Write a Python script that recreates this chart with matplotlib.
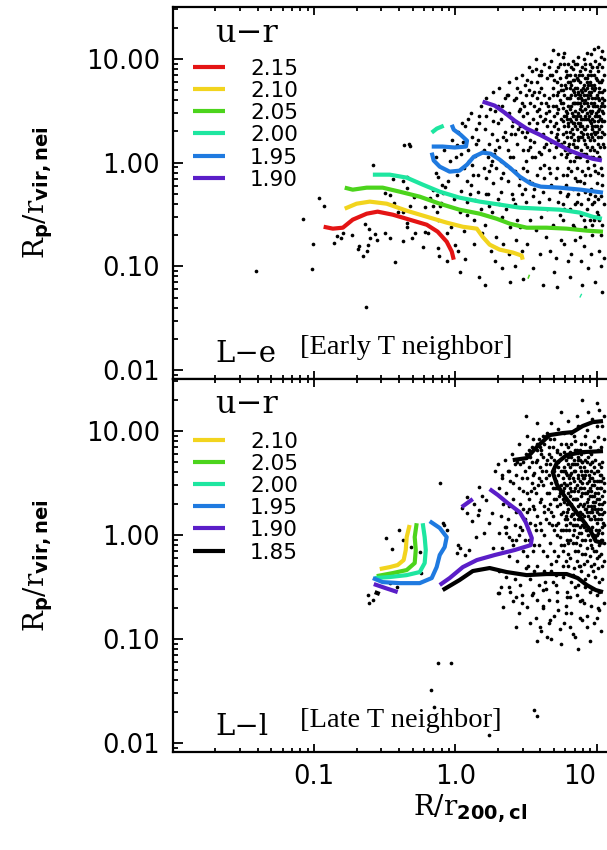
import numpy as np
import matplotlib
matplotlib.use("Agg")
import matplotlib.pyplot as plt
from matplotlib.ticker import FixedLocator, FixedFormatter, LogLocator, NullFormatter
from matplotlib.lines import Line2D

plt.rcParams['mathtext.fontset'] = 'custom'
plt.rcParams['mathtext.rm'] = 'DejaVu Serif'
plt.rcParams['mathtext.bf'] = 'DejaVu Sans:bold'

# ---------------- data ----------------
levels_top = ["2.15", "2.10", "2.05", "2.00", "1.95", "1.90"]
levels_bot = ["2.10", "2.05", "2.00", "1.95", "1.90", "1.85"]
colors = {"2.15": "#e41414", "2.10": "#f2d41e", "2.05": "#4cd41c",
          "2.00": "#1ee6a0", "1.95": "#1f7ae0", "1.90": "#5a1ec8", "1.85": "#000000"}

# top panel contour lines: (R/r200, Rp/rvir)
top_215_x = [0.117, 0.136, 0.160, 0.188, 0.236, 0.282, 0.361, 0.475, 0.628, 0.750, 0.869, 0.944, 0.975]
top_215_y = [0.241, 0.231, 0.236, 0.282, 0.322, 0.337, 0.315, 0.282, 0.252, 0.216, 0.173, 0.139, 0.116]
top_210_x = [0.165, 0.200, 0.248, 0.327, 0.453, 0.628, 0.869, 1.13, 1.42, 1.56, 1.75, 2.06, 2.55, 2.95, 3.00]
top_210_y = [0.360, 0.402, 0.421, 0.402, 0.344, 0.301, 0.264, 0.241, 0.231, 0.193, 0.162, 0.145, 0.136, 0.127, 0.116]
top_205_x = [0.165, 0.188, 0.236, 0.306, 0.404, 0.560, 0.776, 1.07, 1.49, 1.96, 2.43, 3.20, 4.43, 6.14, 8.51, 11.1]
top_205_y = [0.574, 0.549, 0.574, 0.574, 0.525, 0.470, 0.402, 0.352, 0.322, 0.288, 0.258, 0.236, 0.236, 0.231, 0.221, 0.216]
top_205b_x = [3.27, 3.35]
top_205b_y = [0.0800, 0.0790]
top_200_x = [0.261, 0.344, 0.453, 0.588, 0.776, 1.07, 1.49, 2.06, 2.86, 3.96, 5.48, 7.59, 9.38, 10.9]
top_200_y = [0.766, 0.766, 0.717, 0.614, 0.525, 0.460, 0.421, 0.394, 0.368, 0.360, 0.352, 0.330, 0.301, 0.288]
top_200b_x = [0.681, 0.74, 0.828]
top_200b_y = [1.95, 2.13, 2.27]
top_200c_x = [7.65, 7.80]
top_200c_y = [0.0525, 0.0518]
top_195a_x = [0.681, 0.814, 0.99, 1.19, 1.21, 1.09, 0.975, 0.944]
top_195a_y = [1.43, 1.43, 1.40, 1.43, 1.63, 1.86, 2.08, 2.32]
top_195b_x = [0.681, 0.703, 0.776, 0.912, 1.07, 1.21, 1.35, 1.56, 1.78, 2.06, 2.43, 2.86, 3.42, 4.03, 5.48, 7.73, 11.1]
top_195b_y = [1.25, 1.05, 0.915, 0.819, 0.837, 0.957, 1.14, 1.25, 1.22, 1.07, 0.895, 0.733, 0.627, 0.587, 0.574, 0.549, 0.514]
top_190_x = [1.56, 1.90, 2.24, 2.63, 3.20, 3.96, 5.05, 6.45, 7.98, 9.38, 10.9]
top_190_y = [3.88, 3.55, 3.03, 2.54, 2.13, 1.86, 1.56, 1.31, 1.17, 1.09, 1.05]

# bottom panel contour lines
bot_210_x = [0.475, 0.453, 0.446, 0.431, 0.391, 0.344, 0.292]
bot_210_y = [1.25, 0.957, 0.718, 0.575, 0.515, 0.492, 0.471]
bot_205_x = [0.533, 0.516, 0.525, 0.516, 0.453, 0.361, 0.278]
bot_205_y = [1.30, 0.957, 0.718, 0.538, 0.461, 0.431, 0.403]
bot_200_x = [0.588, 0.607, 0.618, 0.607, 0.560, 0.453, 0.344, 0.269]
bot_200_y = [1.30, 0.957, 0.718, 0.538, 0.441, 0.412, 0.395, 0.386]
bot_195_x = [0.659, 0.776, 0.869, 0.841, 0.776, 0.738, 0.681, 0.560, 0.404, 0.306, 0.261]
bot_195_y = [1.36, 1.17, 0.957, 0.767, 0.643, 0.492, 0.386, 0.345, 0.345, 0.353, 0.386]
bot_190a_x = [0.265, 0.321, 0.391]
bot_190a_y = [0.338, 0.309, 0.283]
bot_190b_x = [0.776, 0.912, 1.13, 1.42, 1.90, 2.63, 3.42, 3.48, 3.15, 2.86, 2.35, 2.00, 1.75]
bot_190b_y = [0.331, 0.386, 0.492, 0.575, 0.643, 0.718, 0.801, 0.935, 1.33, 1.66, 2.03, 2.43, 2.77]
bot_190c_x = [1.11, 1.33]
bot_190c_y = [1.86, 2.22]
bot_185a_x = [0.269, 0.292]
bot_185a_y = [0.283, 0.271]
bot_185b_x = [0.814, 1.07, 1.33, 1.75, 2.31, 3.20, 4.43, 6.14, 7.35, 8.51, 9.86, 11.1]
bot_185b_y = [0.296, 0.369, 0.451, 0.482, 0.441, 0.412, 0.422, 0.422, 0.386, 0.331, 0.296, 0.283]
bot_185c_x = [2.55, 3.20, 3.77, 4.66, 5.75, 6.77, 7.98, 9.38, 11.1]
bot_185c_y = [5.26, 5.50, 7.02, 9.16, 9.57, 9.78, 11.2, 12.2, 12.5]
bot_185d_x = [11.1, 7.98, 6.14, 5.22, 4.89, 5.22, 5.85, 6.77, 7.98, 9.08, 9.86, 11.1]
bot_185d_y = [6.42, 6.28, 5.88, 4.92, 4.04, 3.09, 2.43, 1.86, 1.39, 1.09, 0.875, 0.838]

# galaxies (log10 R/r200, log10 Rp/rvir)
top_pts = np.array([
 [-1.079,-0.54],[-0.967,-0.34],[-0.932,-0.42],[-1.010,-0.78],[-1.017,-1.03],[-0.861,-0.77],[-0.811,-0.73],
 [-0.733,-0.70],[-0.684,-0.80],[-0.627,-0.85],[-0.655,-0.90],[-0.606,-0.73],[-0.556,-0.75],[-0.570,-0.69],
 [-0.641,-0.59],[-0.613,-0.64],[-0.584,-0.02],[-0.365,0.17],[-0.330,0.18],[-0.443,-0.16],[-0.500,-0.29],
 [-0.464,-0.31],[-0.436,-0.39],[-0.408,-0.48],[-0.372,-0.48],[-0.344,-0.14],[-0.464,-0.73],[-0.429,-0.96],
 [-0.344,-0.62],[-0.309,-0.73],[-0.231,-0.81],[-0.217,-0.67],[-0.195,-0.68],[-0.125,-0.82],[-0.117,-0.90],
 [-0.181,-0.34],[-0.217,-0.43],[-0.294,-0.33],[-0.323,-0.42],[-0.634,-1.39],[-0.139,-0.10],[-0.125,-0.14],
 [-0.160,-0.26],[-0.132,-0.31],[-0.089,-0.29],[-0.075,-0.23],[-0.103,-0.39],[-0.160,-0.42],[-0.344,-0.24],
 [-0.839,-0.71],[-0.796,-0.68],[-0.690,-0.83],[-0.620,-0.79],[-0.500,-0.68],[-0.372,-0.76],[-0.344,-0.58],
 [-0.323,0.16],[-0.372,-0.18],[-0.287,-0.68],[-0.110,-0.42],[-0.132,-0.48],[-0.061,-0.68],[-0.004,-0.79],
 [-1.41,-1.04],
 [-0.14,0.05],[-0.12,-0.55],[-0.08,0.12],[-0.05,-0.18],[-0.03,-0.62],[-0.02,0.22],[-0.06,-0.95],[-0.01,-0.35],
 [0.01,-0.12],[0.02,0.30],[0.03,-0.48],[0.04,0.08],[0.02,-0.85],[0.04,-0.27],[0.01,0.17],[0.03,-1.05],
 [0.06,-0.05],[0.07,0.35],[0.08,-0.38],[0.09,0.12],[0.06,-0.66],[0.08,-0.18],[0.10,0.02],[0.07,-0.93],[0.09,0.42],
 [0.11,-0.22],[0.12,0.25],[0.13,-0.55],[0.14,0.06],[0.12,-0.02],[0.11,0.48],[0.14,-0.36],[0.13,-0.78],[0.15,0.18],
 [0.16,-0.12],[0.17,0.38],[0.18,-0.45],[0.19,0.10],[0.16,-0.28],[0.18,0.55],[0.19,-0.68],[0.17,-1.10],[0.20,-0.05],[0.16,0.22],
 [0.21,0.32],[0.22,-0.15],[0.23,0.05],[0.24,-0.42],[0.21,-0.60],[0.22,0.62],[0.23,-0.30],[0.24,0.18],[0.25,-0.85],[0.22,0.45],[0.25,-0.02],[0.21,-1.18],
 [0.26,0.28],[0.27,-0.20],[0.28,0.50],[0.29,-0.05],[0.26,-0.48],[0.28,0.12],[0.30,-0.35],[0.27,0.68],[0.29,-0.72],[0.26,0.02],[0.30,0.38],[0.28,-0.95],
 [0.31,0.15],[0.32,-0.28],[0.33,0.55],[0.34,-0.10],[0.31,0.72],[0.33,-0.52],[0.35,0.30],[0.32,0.02],[0.34,-0.78],[0.31,-0.40],[0.35,0.62],[0.33,-1.02],[0.32,0.42],
 [0.36,0.22],[0.37,-0.18],[0.38,0.48],[0.39,0.05],[0.36,-0.45],[0.38,0.78],[0.40,-0.30],[0.37,0.65],[0.39,-0.62],[0.36,-0.02],[0.40,0.35],[0.38,-0.88],[0.37,0.12],[0.39,-1.15],
 [0.41,0.40],[0.42,-0.08],[0.43,0.62],[0.44,0.18],[0.41,-0.35],[0.43,0.82],[0.45,-0.22],[0.42,0.28],[0.44,-0.55],[0.41,0.05],[0.45,0.50],[0.43,-0.75],[0.42,-1.00],[0.44,0.72],
 [0.46,0.35],[0.47,0.58],[0.48,0.12],[0.49,0.75],[0.46,-0.15],[0.48,0.45],[0.50,-0.38],[0.47,0.85],[0.49,0.25],[0.46,-0.62],[0.48,-0.05],[0.50,0.65],[0.47,-0.85],[0.49,-0.25],[0.46,0.52],[0.50,0.02],[0.48,-1.12],[0.47,0.30],
 [0.51,0.48],[0.52,0.70],[0.53,0.22],[0.54,0.88],[0.51,-0.08],[0.53,0.58],[0.55,-0.32],[0.52,0.38],[0.54,0.05],[0.51,0.80],[0.53,-0.55],[0.55,0.42],[0.52,-0.18],[0.54,0.65],[0.51,-0.78],[0.53,0.15],[0.55,-1.02],[0.52,0.92],
 [0.56,0.55],[0.57,0.32],[0.58,0.78],[0.59,0.10],[0.56,0.68],[0.58,-0.12],[0.60,0.45],[0.57,0.90],[0.59,-0.38],[0.56,0.20],[0.58,0.62],[0.60,-0.05],[0.57,-0.65],[0.59,0.85],[0.56,-0.25],[0.58,0.38],[0.60,-0.88],[0.57,1.00],[0.59,0.52],
 [0.61,0.72],[0.62,0.40],[0.63,0.95],[0.64,0.18],[0.61,0.58],[0.63,-0.02],[0.65,0.82],[0.62,-0.28],[0.64,0.48],[0.61,0.08],[0.63,0.65],[0.65,-0.45],[0.62,0.28],[0.64,-0.72],[0.61,0.88],[0.63,-0.15],[0.65,0.35],[0.62,-1.18],[0.64,0.58],[0.61,-0.52],
 [0.66,0.62],[0.67,0.85],[0.68,0.30],[0.69,0.72],[0.66,0.12],[0.68,0.98],[0.70,0.45],[0.67,-0.10],[0.69,0.55],[0.66,-0.35],[0.68,0.20],[0.70,0.80],[0.67,0.40],[0.69,-0.60],[0.66,0.92],[0.68,-0.22],[0.70,0.05],[0.67,-0.85],[0.69,0.65],[0.66,0.50],[0.70,-1.05],
 [0.71,0.55],[0.72,0.78],[0.73,0.32],[0.74,0.95],[0.71,0.15],[0.73,0.68],[0.75,0.42],[0.72,-0.05],[0.74,0.60],[0.71,0.88],[0.73,0.22],[0.75,0.75],[0.72,0.48],[0.74,-0.28],[0.71,0.38],[0.73,1.05],[0.75,0.08],[0.72,0.65],[0.74,-0.50],[0.71,-0.15],[0.73,0.52],[0.75,-0.75],[0.72,0.28],[0.74,0.82],[0.71,-0.92],[0.73,-0.38],[0.75,0.58],[0.72,-1.20],
 [0.76,0.70],[0.77,0.45],[0.78,0.88],[0.79,0.25],[0.76,0.58],[0.78,0.05],[0.80,0.78],[0.77,0.35],[0.79,0.62],[0.76,-0.12],[0.78,0.50],[0.80,0.15],[0.77,0.95],[0.79,-0.32],[0.76,0.40],[0.78,0.72],[0.80,-0.05],[0.77,0.20],[0.79,0.85],[0.76,-0.55],[0.78,-0.22],[0.80,0.55],[0.77,-0.78],[0.79,0.42],[0.76,1.02],[0.78,0.30],[0.80,-0.95],[0.77,0.65],[0.79,0.08],[0.76,-0.40],
 [0.81,0.62],[0.82,0.40],[0.83,0.80],[0.84,0.22],[0.81,0.52],[0.83,0.70],[0.85,0.35],[0.82,0.92],[0.84,0.58],[0.81,0.10],[0.83,0.45],[0.85,0.85],[0.82,-0.08],[0.84,0.68],[0.81,0.30],[0.83,-0.25],[0.85,0.50],[0.82,0.75],[0.84,0.02],[0.81,-0.45],[0.83,0.18],[0.85,-0.15],[0.82,0.55],[0.84,-0.62],[0.81,0.85],[0.83,0.98],[0.85,0.65],[0.82,-0.88],[0.84,0.38],[0.81,-1.10],[0.83,0.28],[0.85,-0.40],
 [0.86,0.72],[0.87,0.48],[0.88,0.88],[0.89,0.30],[0.86,0.58],[0.88,0.65],[0.90,0.42],[0.87,0.80],[0.89,0.55],[0.86,0.15],[0.88,0.38],[0.90,0.92],[0.87,0.22],[0.89,0.70],[0.86,-0.05],[0.88,0.05],[0.90,0.60],[0.87,-0.30],[0.89,0.12],[0.86,0.45],[0.88,-0.18],[0.90,0.25],[0.87,1.02],[0.89,-0.50],[0.86,0.95],[0.88,-0.72],[0.90,-0.08],[0.87,0.62],[0.89,-0.95],[0.86,-0.38],[0.88,0.52],[0.90,-1.18],
 [0.91,0.65],[0.92,0.45],[0.93,0.82],[0.94,0.55],[0.91,0.32],[0.93,0.72],[0.95,0.40],[0.92,0.90],[0.94,0.25],[0.91,0.58],[0.93,0.48],[0.95,0.78],[0.92,0.18],[0.94,0.62],[0.91,0.08],[0.93,0.35],[0.95,0.12],[0.92,0.70],[0.94,-0.05],[0.91,-0.20],[0.93,0.02],[0.95,-0.30],[0.92,-0.12],[0.94,0.85],[0.91,1.00],[0.93,-0.45],[0.95,0.95],[0.92,-0.62],[0.94,-0.35],[0.91,-0.80],[0.93,1.06],[0.95,-0.55],[0.92,0.52],[0.94,-1.02],[0.91,0.42],
 [0.96,0.68],[0.97,0.50],[0.98,0.85],[0.99,0.35],[0.96,0.58],[0.98,0.75],[1.00,0.45],[0.97,0.92],[0.99,0.62],[0.96,0.28],[0.98,0.40],[1.00,0.80],[0.97,0.15],[0.99,0.55],[0.96,0.05],[0.98,0.22],[1.00,0.10],[0.97,0.72],[0.99,-0.08],[0.96,-0.25],[0.98,-0.02],[1.00,-0.20],[0.97,-0.40],[0.99,0.98],[0.96,1.05],[0.98,-0.55],[1.00,0.65],[0.97,-0.70],[0.99,-0.32],[0.96,-0.88],[0.98,1.10],[1.00,-0.48],[0.97,0.32],[0.99,-1.15],[0.96,0.85],
 [1.01,0.62],[1.02,0.45],[1.03,0.78],[1.04,0.30],[1.01,0.88],[1.03,0.55],[1.05,0.40],[1.02,0.95],[1.04,0.68],[1.01,0.18],[1.03,0.25],[1.05,0.85],[1.02,0.05],[1.04,0.50],[1.01,-0.10],[1.03,-0.05],[1.05,0.15],[1.02,0.72],[1.04,-0.22],[1.01,-0.35],[1.03,1.02],[1.05,-0.40],[1.02,-0.55],[1.04,1.08],[1.01,1.12],[1.03,-0.70],[1.05,0.60],[1.02,-0.85],[1.04,-0.60],[1.01,0.40],[1.03,-1.00],[1.05,-0.92],[1.02,0.32],[1.04,-1.25],[1.05,1.00],
 [0.69,1.09],[0.77,1.06],
 [0.79,0.48],[0.81,0.72],[0.82,0.25],[0.84,0.45],[0.85,0.72],[0.86,0.32],[0.87,0.58],[0.88,0.78],[0.89,0.42],[0.90,0.68],[0.91,0.22],[0.92,0.60],[0.93,0.28],[0.94,0.75],[0.95,0.50],[0.96,0.38],[0.97,0.62],[0.98,0.30],[0.99,0.72],[1.00,0.55],[1.01,0.25],[1.02,0.60],[1.03,0.42],[1.04,0.80],
 [0.80,0.35],[0.82,0.65],[0.83,0.38],[0.85,0.58],[0.86,0.82],[0.87,0.38],[0.88,0.25],[0.89,0.62],[0.90,0.35],[0.91,0.75],[0.92,0.32],[0.93,0.58],[0.94,0.42],[0.95,0.65],[0.96,0.48],[0.97,0.25],[0.98,0.58],[0.99,0.45],[1.00,0.30],[1.01,0.50],[1.02,0.78],[1.03,0.35],[1.04,0.58],[1.05,0.28],
 [0.81,0.42],[0.84,0.80],[0.87,0.68],[0.90,0.50],[0.93,0.65],[0.96,0.75],[0.99,0.28],[1.02,0.52],[1.04,0.40],[0.88,0.45],[0.92,0.82],[0.97,0.42],
 [0.765,0.53],[0.775,0.12],[0.785,0.83],[0.795,0.38],[0.805,0.62],[0.815,0.02],[0.825,0.48],[0.835,0.90],[0.845,0.15],[0.855,0.42],
 [0.865,0.66],[0.875,0.05],[0.885,0.58],[0.895,0.85],[0.905,0.28],[0.915,0.52],[0.925,0.08],[0.935,0.78],[0.945,0.45],[0.955,0.22],
 [0.965,0.92],[0.975,0.55],[0.985,0.12],[0.995,0.82],[1.005,0.35],[1.015,0.68],[1.025,0.15],[1.035,0.92],[1.045,0.48],[1.055,0.70],
 [0.765,0.28],[0.775,0.75],[0.785,0.45],[0.795,0.95],[0.805,0.18],[0.815,0.78],[0.825,0.32],[0.835,0.58],[0.845,0.95],[0.855,0.05],
 [0.865,0.25],[0.875,0.85],[0.885,0.35],[0.895,0.08],[0.905,0.72],[0.915,0.95],[0.925,0.42],[0.935,0.15],[0.945,0.68],[0.955,0.88],
 [0.965,0.35],[0.975,0.05],[0.985,0.70],[0.995,0.48],[1.005,0.92],[1.015,0.05],[1.025,0.42],[1.035,0.62],[1.045,0.18],[1.055,0.55],
 [0.77,-0.45],[0.80,-0.30],[0.83,-0.60],[0.86,-0.18],[0.89,-0.40],[0.92,-0.28],[0.95,-0.12],[0.98,-0.38],[1.01,-0.50],[1.04,-0.12],
 [0.79,-0.12],[0.85,-0.75],[0.91,-0.55],[0.97,-0.60],[1.03,-0.32],
 [0.205,0.12],[0.235,-0.08],[0.265,0.40],[0.295,0.22],[0.325,-0.15],[0.355,0.48],[0.385,-0.05],[0.415,0.60],[0.445,0.32],[0.475,-0.30],
 [0.505,0.30],[0.535,0.78],[0.565,0.05],[0.595,0.68],[0.625,0.15],[0.655,0.55],[0.685,0.85],[0.715,0.25],[0.745,0.70],
 [0.215,-0.30],[0.245,0.52],[0.275,0.08],[0.305,0.55],[0.335,0.25],[0.365,0.65],[0.395,0.28],[0.425,-0.40],[0.455,0.68],[0.485,0.55],
 [0.515,0.12],[0.545,-0.20],[0.575,0.50],[0.605,0.85],[0.635,0.42],[0.665,-0.05],[0.695,0.35],[0.725,0.92],[0.745,0.18],
 [0.005,0.05],[0.045,0.38],[0.085,-0.50],[0.125,-0.12],[0.165,0.45],[0.055,0.20],[0.105,-0.30],[0.145,0.32],[-0.035,0.02],[-0.095,-0.22],
])

bot_pts = np.array([
 [-0.11,0.50],[-0.40,0.05],[-0.49,-0.03],[-0.45,-0.13],[-0.37,-0.05],[-0.31,-0.11],[-0.25,-0.16],[-0.24,-0.36],
 [-0.08,0.10],[-0.62,-0.58],[-0.61,-0.65],[-0.58,-0.62],[-0.46,-0.46],[-0.41,-0.50],[-0.12,-1.23],[-0.03,-1.23],
 [-0.17,-1.49],[-0.15,-1.65],[0.56,-1.68],[0.58,-1.74],[0.24,-1.92],[-0.09,0.12],[-0.06,0.05],
 [0.17,0.46],[0.19,0.38],[0.16,0.19],[0.24,0.12],[0.31,0.02],[0.05,0.26],[0.08,0.21],[0.03,-0.12],[0.01,-0.17],
 [0.07,-0.19],[0.10,-0.14],[0.15,-0.02],[0.36,0.08],[0.38,-0.02],[0.43,-0.05],[0.46,0.08],[0.26,0.21],
 [0.02,-0.10],[0.12,0.14],[0.17,0.24],[0.22,0.34],[0.08,0.37],[0.20,0.02],[0.27,-0.12],[0.13,0.30],
 [0.50,1.15],[0.58,1.08],[0.68,1.08],[0.82,0.98],[0.93,1.01],[1.01,0.94],[0.90,1.30],[1.00,1.27],[1.02,1.20],
 [0.97,1.12],[1.04,1.05],[0.86,1.15],[0.75,1.18],[0.62,0.95],[0.55,0.92],[0.45,0.88],[0.40,0.78],[0.35,0.72],
 [0.30,0.68],[0.28,0.62],[0.38,0.62],[0.48,0.70],[0.52,0.82],[0.60,0.85],[0.66,0.78],[0.70,0.92],[0.72,0.82],
 [0.78,0.88],[0.80,0.78],[0.85,0.90],[0.88,0.82],[0.92,0.88],[0.95,0.80],[0.98,0.90],[1.03,0.85],[1.05,0.92],
 [0.42,0.68],[0.33,0.58],[0.58,0.72],[0.64,0.68],
 [0.31,0.45],[0.32,0.18],[0.33,-0.12],[0.34,0.30],[0.31,-0.35],[0.33,0.55],[0.35,0.08],[0.32,-0.50],
 [0.36,0.40],[0.37,0.15],[0.38,-0.20],[0.39,0.52],[0.36,-0.40],[0.38,0.28],[0.40,-0.05],[0.37,0.62],[0.39,-0.55],[0.36,0.02],
 [0.41,0.35],[0.42,0.10],[0.43,0.58],[0.44,-0.25],[0.41,-0.10],[0.43,0.22],[0.45,0.45],[0.42,-0.42],[0.44,0.70],[0.41,0.50],[0.43,-0.60],[0.45,0.00],
 [0.46,0.30],[0.47,0.55],[0.48,-0.15],[0.49,0.15],[0.46,0.68],[0.48,0.42],[0.50,-0.32],[0.47,0.05],[0.49,0.62],[0.46,-0.48],[0.48,0.25],[0.50,0.78],[0.47,-0.65],[0.49,-0.05],
 [0.51,0.40],[0.52,0.65],[0.53,0.12],[0.54,0.50],[0.51,-0.20],[0.53,0.75],[0.55,0.28],[0.52,-0.05],[0.54,0.85],[0.51,0.22],[0.53,-0.42],[0.55,0.58],[0.52,0.35],[0.54,-0.58],[0.51,0.95],[0.55,-0.15],
 [0.56,0.45],[0.57,0.70],[0.58,0.18],[0.59,0.55],[0.56,-0.10],[0.58,0.82],[0.60,0.32],[0.57,0.05],[0.59,0.92],[0.56,0.25],[0.58,-0.30],[0.60,0.65],[0.57,0.40],[0.59,-0.48],[0.56,0.60],[0.58,-0.62],[0.60,0.12],[0.57,-0.80],
 [0.61,0.52],[0.62,0.75],[0.63,0.28],[0.64,0.62],[0.61,0.05],[0.63,0.88],[0.65,0.40],[0.62,-0.15],[0.64,0.15],[0.61,0.35],[0.63,-0.35],[0.65,0.72],[0.62,0.48],[0.64,-0.52],[0.61,0.82],[0.63,0.00],[0.65,-0.20],[0.62,-0.70],[0.64,0.95],[0.61,-0.92],
 [0.66,0.58],[0.67,0.30],[0.68,0.75],[0.69,0.45],[0.66,0.12],[0.68,0.22],[0.70,0.62],[0.67,-0.08],[0.69,0.85],[0.66,0.40],[0.68,-0.28],[0.70,0.05],[0.67,0.68],[0.69,-0.45],[0.66,-0.62],[0.68,0.50],[0.70,-0.15],[0.67,0.92],[0.69,0.18],[0.66,-0.85],[0.68,-1.00],[0.70,0.35],
 [0.71,0.52],[0.72,0.28],[0.73,0.70],[0.74,0.40],[0.71,0.10],[0.73,0.58],[0.75,0.20],[0.72,0.80],[0.74,-0.02],[0.71,0.35],[0.73,-0.20],[0.75,0.62],[0.72,0.45],[0.74,0.78],[0.71,-0.38],[0.73,0.12],[0.75,-0.10],[0.72,-0.55],[0.74,0.30],[0.71,0.68],[0.73,-0.72],[0.75,0.48],[0.72,0.00],[0.74,-0.90],[0.71,-0.25],[0.75,0.88],
 [0.76,0.55],[0.77,0.32],[0.78,0.72],[0.79,0.15],[0.76,0.42],[0.78,0.60],[0.80,0.25],[0.77,0.80],[0.79,0.48],[0.76,0.05],[0.78,0.35],[0.80,0.68],[0.77,-0.10],[0.79,0.58],[0.76,0.22],[0.78,-0.25],[0.80,0.40],[0.77,0.65],[0.79,-0.05],[0.76,-0.40],[0.78,0.10],[0.80,-0.18],[0.77,0.45],[0.79,-0.55],[0.76,0.75],[0.78,-0.68],[0.80,0.85],[0.77,-0.85],[0.79,0.30],[0.76,-0.30],
 [0.81,0.50],[0.82,0.30],[0.83,0.68],[0.84,0.42],[0.81,0.12],[0.83,0.55],[0.85,0.22],[0.82,0.75],[0.84,0.05],[0.81,0.38],[0.83,-0.08],[0.85,0.62],[0.82,0.18],[0.84,0.52],[0.81,-0.22],[0.83,0.35],[0.85,-0.15],[0.82,0.60],[0.84,-0.32],[0.81,0.80],[0.83,0.00],[0.85,0.45],[0.82,-0.45],[0.84,0.72],[0.81,-0.60],[0.83,0.25],[0.85,-0.50],[0.82,-0.75],[0.84,0.15],[0.81,0.65],[0.83,-0.95],[0.85,0.10],
 [0.86,0.48],[0.87,0.28],[0.88,0.65],[0.89,0.38],[0.86,0.10],[0.88,0.52],[0.90,0.20],[0.87,0.72],[0.89,0.02],[0.86,0.35],[0.88,-0.10],[0.90,0.58],[0.87,0.15],[0.89,0.45],[0.86,-0.25],[0.88,0.30],[0.90,-0.05],[0.87,0.55],[0.89,-0.35],[0.86,0.68],[0.88,0.08],[0.90,0.40],[0.87,-0.48],[0.89,0.78],[0.86,-0.58],[0.88,0.22],[0.90,-0.62],[0.87,-0.15],[0.89,0.62],[0.86,0.82],[0.88,-0.80],[0.90,0.70],
 [0.91,0.45],[0.92,0.25],[0.93,0.62],[0.94,0.35],[0.91,0.08],[0.93,0.50],[0.95,0.15],[0.92,0.72],[0.94,0.00],[0.91,0.30],[0.93,-0.12],[0.95,0.55],[0.92,0.12],[0.94,0.42],[0.91,-0.28],[0.93,0.22],[0.95,-0.20],[0.92,0.58],[0.94,-0.38],[0.91,0.65],[0.93,0.05],[0.95,0.38],[0.92,-0.50],[0.94,0.75],[0.91,-0.65],[0.93,0.32],[0.95,-0.55],[0.92,-0.05],[0.94,0.18],[0.91,0.80],[0.93,-0.78],[0.95,0.68],
 [0.96,0.42],[0.97,0.22],[0.98,0.60],[0.99,0.32],[0.96,0.05],[0.98,0.48],[1.00,0.12],[0.97,0.70],[0.99,-0.02],[0.96,0.28],[0.98,-0.15],[1.00,0.52],[0.97,0.08],[0.99,0.40],[0.96,-0.30],[0.98,0.18],[1.00,-0.22],[0.97,0.55],[0.99,-0.40],[0.96,0.62],[0.98,0.00],[1.00,0.35],[0.97,-0.52],[0.99,0.72],[0.96,-0.68],[0.98,0.28],[1.00,-0.58],[0.97,-0.12],[0.99,0.15],[0.96,0.78],
 [1.01,0.40],[1.02,0.20],[1.03,0.58],[1.04,0.30],[1.01,0.02],[1.03,0.45],[1.05,0.10],[1.02,0.68],[1.04,-0.05],[1.01,0.25],[1.03,-0.18],[1.05,0.50],[1.02,0.05],[1.04,0.38],[1.01,-0.32],[1.03,0.15],[1.05,-0.25],[1.02,0.52],[1.04,-0.42],[1.01,0.62],[1.03,-0.05],[1.05,0.32],[1.02,-0.55],[1.04,0.70],[1.01,-0.70],[1.03,0.25],[1.05,-0.65],[1.02,-0.20],
 [0.31,-0.56],[0.38,-0.50],[0.41,-0.63],[0.51,-0.69],[0.60,-0.88],[0.65,-0.98],[0.67,-0.82],[0.81,-0.88],[0.90,-0.82],[0.93,-0.88],[1.00,-0.80],[1.02,-0.72],[0.79,-0.60],[0.88,-0.63],[0.72,-0.63],[0.62,-0.53],[0.55,-0.56],[0.47,-0.58],[0.34,-0.69],[0.30,-0.56],
 [0.45,-0.75],[0.58,-1.02],[0.75,-1.05],[0.85,-0.98],[0.95,-1.02],[1.03,-0.92],[0.70,-0.78],[0.62,-0.68],[0.53,-0.85],[0.43,-0.88],[0.98,-0.85],[0.87,-1.10],[0.78,-0.75],
 [0.77,0.50],[0.79,0.22],[0.81,0.58],[0.82,0.42],[0.84,0.25],[0.85,0.68],[0.86,0.20],[0.87,0.42],[0.88,0.72],[0.89,0.15],[0.90,0.50],[0.91,0.18],[0.92,0.40],[0.93,0.70],[0.94,0.28],[0.95,0.45],[0.96,0.15],[0.97,0.38],[0.98,0.65],[0.99,0.25],[1.00,0.45],[1.01,0.15],[1.02,0.35],[1.03,0.65],[1.04,0.20],[1.05,0.42],
 [0.78,0.05],[0.80,-0.08],[0.83,0.10],[0.86,-0.02],[0.88,-0.30],[0.90,0.10],[0.92,-0.18],[0.94,0.08],[0.96,-0.10],[0.98,-0.28],[1.00,0.00],[1.02,-0.10],[1.04,0.08],[0.82,0.88],[0.89,0.88],[0.95,0.85],[1.01,0.82],[0.76,0.62],[0.84,0.62],[0.91,0.55],[0.97,0.48],[1.03,0.52],
 [0.765,0.35],[0.775,0.62],[0.785,0.18],[0.795,0.75],[0.805,0.05],[0.815,0.45],[0.825,0.68],[0.835,0.20],[0.845,0.82],[0.855,0.35],
 [0.865,0.58],[0.875,0.02],[0.885,0.45],[0.895,0.70],[0.905,0.28],[0.915,0.62],[0.925,0.05],[0.935,0.40],[0.945,0.58],[0.955,0.22],
 [0.965,0.70],[0.975,0.32],[0.985,0.52],[0.995,0.05],[1.005,0.62],[1.015,0.30],[1.025,0.45],[1.035,0.02],[1.045,0.55],[1.055,0.22],
 [0.765,-0.15],[0.775,0.15],[0.785,0.48],[0.795,-0.30],[0.805,0.55],[0.815,-0.05],[0.825,0.20],[0.835,-0.38],[0.845,0.35],[0.855,-0.08],
 [0.865,0.75],[0.875,-0.30],[0.885,0.15],[0.895,-0.18],[0.905,0.55],[0.915,-0.42],[0.925,0.25],[0.935,-0.25],[0.945,0.52],[0.955,-0.05],
 [0.965,0.25],[0.975,-0.35],[0.985,0.38],[0.995,-0.15],[1.005,0.22],[1.015,-0.45],[1.025,0.58],[1.035,-0.30],[1.045,0.12],[1.055,-0.08],
 [0.505,0.55],[0.525,0.25],[0.545,0.70],[0.565,0.10],[0.585,0.48],[0.605,0.78],[0.625,0.22],[0.645,0.55],[0.665,0.85],[0.685,0.10],
 [0.705,0.45],[0.725,0.65],[0.745,0.05],[0.515,-0.30],[0.555,-0.35],[0.595,-0.10],[0.635,-0.45],[0.675,-0.35],[0.715,-0.48],[0.735,0.38],
 [0.535,0.42],[0.575,0.88],[0.615,0.62],[0.655,0.25],[0.695,0.72],
 [0.65,0.98],[0.73,1.02],[0.80,1.10],[0.87,1.05],[0.94,1.18],[1.00,1.05],[1.05,1.15],[0.92,0.95],[0.84,0.95],[0.77,0.98],
])

x_ticks = [0.01, 0.1, 1.0, 10.0]
x_ticklabels = ["", "0.1", "1.0", "10"]
y_ticks = [0.01, 0.1, 1.0, 10.0]
y_ticklabels = ["0.01", "0.10", "1.00", "10.00"]
panel_tags = ["L\u2212e", "L\u2212l"]
panel_notes = ["[Early T neighbor]", "[Late T neighbor]"]

top_lines = [("2.15", top_215_x, top_215_y), ("2.10", top_210_x, top_210_y),
             ("2.05", top_205_x, top_205_y), ("2.05", top_205b_x, top_205b_y),
             ("2.00", top_200_x, top_200_y), ("2.00", top_200b_x, top_200b_y),
             ("2.00", top_200c_x, top_200c_y),
             ("1.95", top_195a_x, top_195a_y), ("1.95", top_195b_x, top_195b_y),
             ("1.90", top_190_x, top_190_y)]
bot_lines = [("2.10", bot_210_x, bot_210_y), ("2.05", bot_205_x, bot_205_y),
             ("2.00", bot_200_x, bot_200_y), ("1.95", bot_195_x, bot_195_y),
             ("1.90", bot_190a_x, bot_190a_y), ("1.90", bot_190b_x, bot_190b_y),
             ("1.90", bot_190c_x, bot_190c_y),
             ("1.85", bot_185a_x, bot_185a_y), ("1.85", bot_185b_x, bot_185b_y),
             ("1.85", bot_185c_x, bot_185c_y), ("1.85", bot_185d_x, bot_185d_y)]

# ---------------- figure ----------------
W, H = 607, 850
fig = plt.figure(figsize=(W / 100, H / 100), dpi=100)

left = 172.7 / W
xlim = (0.01, 15.0)
width = np.log10(xlim[1] / xlim[0]) * 141.3 / W
ylim = (0.0082, 31.7)
ax_top = fig.add_axes([left, 1 - 379 / H, width, 372 / H])
ax_bot = fig.add_axes([left, 1 - 752 / H, width, 373 / H])

tick_font = dict(family="DejaVu Sans", size=18.5)

for ax, pts, lines in [(ax_top, top_pts, top_lines), (ax_bot, bot_pts, bot_lines)]:
    ax.set_xscale("log")
    ax.set_yscale("log")
    ax.set_xlim(*xlim)
    ax.set_ylim(*ylim)
    ax.scatter(10 ** pts[:, 0], 10 ** pts[:, 1], s=7, c="black", marker="o", linewidths=0, zorder=2)
    for lev, xs, ys in lines:
        ax.plot(xs, ys, color=colors[lev], lw=3.0, solid_capstyle="butt", zorder=3)
    for s in ["left", "top", "bottom"]:
        ax.spines[s].set_linewidth(1.6)
    ax.spines["right"].set_visible(False)
    ax.xaxis.set_major_locator(FixedLocator(x_ticks))
    ax.xaxis.set_minor_locator(LogLocator(base=10, subs=np.arange(2, 10)))
    ax.yaxis.set_major_locator(FixedLocator(y_ticks))
    ax.yaxis.set_minor_locator(LogLocator(base=10, subs=np.arange(2, 10)))
    ax.yaxis.set_major_formatter(FixedFormatter(y_ticklabels))
    ax.yaxis.set_minor_formatter(NullFormatter())
    ax.xaxis.set_minor_formatter(NullFormatter())
    ax.tick_params(axis="x", which="both", direction="in", top=True, bottom=True, width=1.3)
    ax.tick_params(axis="x", which="major", length=5.5)
    ax.tick_params(axis="x", which="minor", length=2.8)
    ax.tick_params(axis="y", which="both", direction="in", left=True, right=False, width=1.3)
    ax.tick_params(axis="y", which="major", length=7.5, pad=9)
    ax.tick_params(axis="y", which="minor", length=3.8)
    for lab in ax.get_yticklabels():
        lab.set_fontfamily(tick_font["family"])
        lab.set_fontsize(tick_font["size"])
    ax.set_ylabel(r"$\mathrm{R}_{\mathbf{p}}/\mathrm{r}_{\mathbf{vir,nei}}$", fontsize=20)
    ax.yaxis.set_label_coords((55 - 172.7) / (width * W), 0.5)

ax_top.xaxis.set_major_formatter(NullFormatter())
ax_bot.xaxis.set_major_formatter(FixedFormatter(x_ticklabels))
ax_bot.tick_params(axis="x", which="major", pad=9)
for lab in ax_bot.get_xticklabels():
    lab.set_fontfamily(tick_font["family"])
    lab.set_fontsize(tick_font["size"])
    if lab.get_text() == "10":
        lab.set_horizontalalignment("right")
ax_bot.set_xlabel(r"$\mathrm{R/r}_{\mathbf{200,cl}}$", fontsize=20)
ax_bot.xaxis.set_label_coords((470 - 172.7) / (width * W), -(792 - 752) / 373)


def fx(px):
    return px / W


def fy(py):
    return 1 - py / H


# legends drawn in figure coordinates
legend_rows_top = [66.7, 89.0, 111.0, 133.0, 155.7, 178.3]
legend_rows_bot = [440.0, 461.7, 484.0, 506.0, 528.0, 550.7]
for levs, rows, title_y in [(levels_top, legend_rows_top, 42), (levels_bot, legend_rows_bot, 413)]:
    fig.text(fx(215), fy(title_y), "u\u2212r", family="DejaVu Serif", fontsize=23, ha="left", va="baseline")
    for lev, ry in zip(levs, rows):
        fig.add_artist(Line2D([fx(193), fx(225)], [fy(ry), fy(ry)], color=colors[lev], lw=3.0,
                              solid_capstyle="butt"))
        fig.text(fx(250), fy(ry), lev, family="DejaVu Sans", fontsize=15.5, ha="left", va="center_baseline")

for tag, note, base in zip(panel_tags, panel_notes, [362, 735]):
    fig.text(fx(215), fy(base), tag, family="DejaVu Serif", fontsize=21, ha="left", va="baseline")
    fig.text(fx(300), fy(base - 8), note, family="Liberation Serif", fontsize=20.5, ha="left", va="baseline")

fig.savefig("out.png", dpi=100)
